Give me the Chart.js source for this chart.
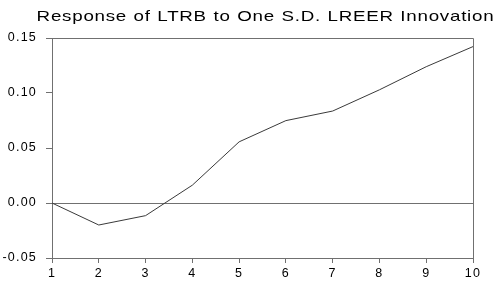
<!DOCTYPE html>
<html>
<head>
<meta charset="utf-8">
<script src="https://cdn.jsdelivr.net/npm/chart.js@4.4.1/dist/chart.umd.min.js"></script>
<style>
  html, body { margin: 0; padding: 0; background: #fff; }
  canvas { display: block; }
</style>
</head>
<body>
<canvas id="c" width="500" height="285"></canvas>
<script>
const titleText = 'Response of LTRB to One S.D. LREER Innovation';
const periods = ['1', '2', '3', '4', '5', '6', '7', '8', '9', '10'];
const response = [0.000, -0.020, -0.0115, 0.0162, 0.0556, 0.0749, 0.0836, 0.1029, 0.1239, 0.1422];
const yMin = -0.05;
const yMax = 0.15;
const yStep = 0.05;

const FONT = '"Liberation Sans", Arial, sans-serif';
const AXIS = '#707070';

const spacingPlugin = {
  id: 'spacing',
  beforeDraw(chart) { chart.ctx.letterSpacing = '1.2px'; },
  afterDraw(chart) { chart.ctx.letterSpacing = '0px'; }
};

const framePlugin = {
  id: 'frame',
  afterDraw(chart) {
    const { ctx, chartArea: a } = chart;
    ctx.save();
    ctx.strokeStyle = AXIS;
    ctx.lineWidth = 1;
    ctx.beginPath();
    ctx.moveTo(a.left + 0.5, a.top + 0.5);
    ctx.lineTo(a.right + 0.5, a.top + 0.5);
    ctx.lineTo(a.right + 0.5, a.bottom + 0.5);
    ctx.stroke();
    ctx.restore();
  }
};

const titlePlugin = {
  id: 'customTitle',
  afterDraw(chart) {
    const { ctx, chartArea: a } = chart;
    const sx = 1.25;
    ctx.save();
    ctx.font = '15px ' + FONT;
    ctx.letterSpacing = '0.6px';
    ctx.wordSpacing = '0.5px';
    ctx.fillStyle = '#000';
    ctx.textAlign = 'center';
    ctx.textBaseline = 'alphabetic';
    ctx.scale(sx, 1);
    ctx.fillText(titleText, ((a.left + a.right) / 2 + 3) / sx, 21);
    ctx.restore();
  }
};

new Chart(document.getElementById('c'), {
  type: 'line',
  data: {
    labels: periods,
    datasets: [{
      data: response,
      borderColor: '#3a3a3a',
      borderWidth: 1,
      pointRadius: 0,
      tension: 0,
      fill: false
    }]
  },
  options: {
    responsive: false,
    animation: false,
    devicePixelRatio: 1,
    layout: { padding: { top: 38, right: 27, bottom: 0, left: 0 } },
    plugins: {
      legend: { display: false },
      title: { display: false },
      tooltip: { enabled: false }
    },
    scales: {
      x: {
        type: 'category',
        offset: false,
        grid: {
          offset: false,
          drawOnChartArea: false,
          drawTicks: true,
          tickLength: 5,
          tickColor: AXIS
        },
        border: { display: true, color: AXIS, width: 1 },
        ticks: {
          color: '#000',
          font: { family: FONT, size: 12.5 },
          padding: 3,
          maxRotation: 0,
          autoSkip: false
        },
        afterFit(scale) { scale.height = 27; }
      },
      y: {
        min: yMin,
        max: yMax,
        grid: {
          drawOnChartArea: true,
          color: (ctx) => (ctx.tick && Math.abs(ctx.tick.value) < 1e-9) ? AXIS : 'rgba(0,0,0,0)',
          drawTicks: true,
          tickLength: 6,
          tickColor: AXIS
        },
        border: { display: true, color: AXIS, width: 1 },
        ticks: {
          stepSize: yStep,
          color: '#000',
          font: { family: FONT, size: 12.5 },
          padding: 9,
          callback: (v) => Number(v).toFixed(2)
        },
        afterFit(scale) { scale.width = 52; }
      }
    }
  },
  plugins: [spacingPlugin, framePlugin, titlePlugin]
});
</script>
</body>
</html>
